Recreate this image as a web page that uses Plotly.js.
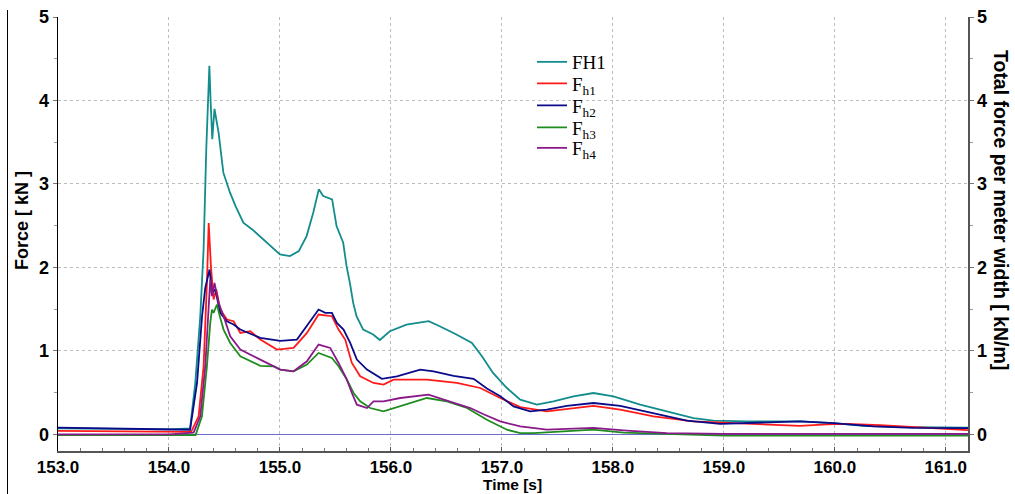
<!DOCTYPE html>
<html>
<head>
<meta charset="utf-8">
<script src="https://cdn.plot.ly/plotly-3.0.1.min.js"></script>
<style>
  html, body { margin:0; padding:0; background:#fff; }
  #wrap { position:relative; width:1015px; height:494px; }
  #chart { width:1015px; height:494px; }
  #edge { position:absolute; left:7px; top:10px; width:1px; height:484px; background:#000; }
</style>
</head>
<body>
<div id="wrap"><div id="chart"></div><div id="edge"></div></div>
<script>
// ---- Data ----
const seriesNames = ['FH1', 'F<sub>h1</sub>', 'F<sub>h2</sub>', 'F<sub>h3</sub>', 'F<sub>h4</sub>'];

const tFH1 = [153.0,153.5,154.0,154.19,154.237,154.282,154.312,154.336,154.354,154.364,154.375,154.39,154.41,154.447,154.49,154.55,154.60,154.67,154.75,154.85,154.94,155.0,155.09,155.17,155.24,155.30,155.35,155.39,155.47,155.48,155.51,155.57,155.60,155.63,155.66,155.69,155.75,155.84,155.90,155.99,156.14,156.34,156.44,156.59,156.73,156.82,156.92,157.045,157.165,157.315,157.465,157.645,157.825,158.005,158.246,158.486,158.726,158.906,159.207,159.687,159.988,160.258,160.708,161.2];
const FH1  = [0.07,0.065,0.06,0.07,0.615,1.415,2.215,3.415,4.215,4.415,4.0,3.535,3.90,3.615,3.135,2.895,2.735,2.535,2.455,2.335,2.215,2.155,2.135,2.195,2.375,2.655,2.935,2.855,2.815,2.735,2.495,2.295,2.015,1.815,1.575,1.415,1.255,1.195,1.13,1.235,1.315,1.355,1.295,1.195,1.095,0.935,0.735,0.555,0.415,0.355,0.395,0.455,0.495,0.455,0.355,0.275,0.195,0.165,0.155,0.155,0.135,0.10,0.085,0.08];

const tFh1 = [153.0,153.5,154.0,154.2,154.267,154.312,154.342,154.358,154.378,154.402,154.426,154.462,154.522,154.582,154.643,154.733,154.823,154.973,155.123,155.243,155.348,155.468,155.528,155.588,155.648,155.723,155.843,155.933,156.024,156.324,156.594,156.805,156.985,157.165,157.405,157.645,157.825,158.066,158.366,158.726,158.996,159.357,159.687,159.927,160.108,160.408,160.708,161.2];
const Fh1  = [0.04,0.035,0.03,0.03,0.215,0.815,1.815,2.53,2.015,1.615,1.735,1.495,1.375,1.355,1.215,1.235,1.135,1.015,1.035,1.215,1.435,1.415,1.255,1.135,0.855,0.695,0.615,0.595,0.655,0.655,0.615,0.555,0.435,0.325,0.275,0.315,0.34,0.295,0.215,0.155,0.14,0.12,0.10,0.12,0.125,0.11,0.09,0.05];

const tFh2 = [153.0,153.5,154.0,154.19,154.253,154.298,154.327,154.366,154.387,154.417,154.462,154.522,154.582,154.643,154.823,155.003,155.153,155.243,155.348,155.408,155.468,155.513,155.573,155.633,155.693,155.784,155.919,156.054,156.264,156.384,156.564,156.745,156.865,156.985,157.105,157.255,157.405,157.585,157.825,158.066,158.366,158.666,158.967,159.357,159.687,159.988,160.348,160.708,161.2];
const Fh2  = [0.08,0.07,0.06,0.055,0.615,1.415,1.755,1.975,1.695,1.735,1.455,1.355,1.315,1.255,1.155,1.12,1.135,1.295,1.495,1.455,1.455,1.335,1.255,1.095,0.895,0.775,0.665,0.695,0.775,0.755,0.70,0.665,0.55,0.455,0.335,0.275,0.295,0.34,0.375,0.34,0.255,0.165,0.125,0.14,0.155,0.135,0.095,0.078,0.075];

const tFh3 = [153.0,154.0,154.24,154.297,154.342,154.372,154.387,154.402,154.432,154.462,154.492,154.552,154.643,154.823,154.943,155.003,155.123,155.243,155.348,155.468,155.528,155.603,155.663,155.723,155.813,155.933,156.084,156.324,156.504,156.685,156.865,156.955,157.045,157.165,157.285,157.555,157.825,158.096,158.486,159.0,161.2];
const Fh3  = [-0.01,-0.01,-0.01,0.215,0.815,1.335,1.495,1.455,1.555,1.395,1.255,1.095,0.935,0.82,0.815,0.775,0.755,0.835,0.975,0.915,0.815,0.655,0.495,0.395,0.315,0.275,0.335,0.435,0.395,0.315,0.175,0.115,0.055,0.015,0.015,0.035,0.055,0.02,0.005,-0.015,-0.015];

const tFh4 = [153.0,154.0,154.222,154.282,154.327,154.357,154.372,154.387,154.41,154.447,154.492,154.552,154.643,154.823,155.003,155.123,155.243,155.348,155.453,155.528,155.603,155.648,155.693,155.784,155.843,155.933,156.084,156.339,156.534,156.715,156.835,156.985,157.165,157.405,157.825,158.126,158.486,159.0,161.2];
const Fh4  = [0.0,0.0,0.02,0.215,0.815,1.575,1.855,1.655,1.815,1.575,1.415,1.175,1.015,0.895,0.775,0.755,0.875,1.075,1.035,0.855,0.655,0.495,0.355,0.315,0.395,0.395,0.435,0.475,0.395,0.315,0.24,0.155,0.095,0.055,0.078,0.045,0.015,0.005,0.005];

const yTicks = [0, 1, 2, 3, 4, 5];
const xTicks = [153, 154, 155, 156, 157, 158, 159, 160, 161];

// ---- Styling ----
const colors = ['#128c8c', '#ff1a1a', '#0a0a8a', '#1f8c1f', '#8a1a8a'];
const xs = [tFH1, tFh1, tFh2, tFh3, tFh4];
const ys = [FH1, Fh1, Fh2, Fh3, Fh4];
const legendIds = ['legend', 'legend2', 'legend3', 'legend4', 'legend5'];
const legendRowPx = [62, 83.5, 105.5, 127.5, 148];   // vertical centre of each legend row (pixels)

const traces = xs.map((x, i) => ({
  x: x, y: ys[i], name: seriesNames[i], type: 'scatter', mode: 'lines',
  legend: legendIds[i],
  line: { color: colors[i], width: 1.8 }
}));
// invisible trace for the right axis
traces.push({ x: [153], y: [0], yaxis: 'y2', mode: 'lines', showlegend: false,
  hoverinfo: 'skip', line: { color: 'rgba(0,0,0,0)' } });

const tickFont = { family: 'Liberation Sans, Arial, sans-serif', size: 18, color: '#000', weight: 'bold' };

const layout = {
  width: 1015, height: 494,
  margin: { l: 58, r: 47, t: 17, b: 43 },
  paper_bgcolor: '#fff', plot_bgcolor: '#fff',
  showlegend: true,
  xaxis: {
    range: [153, 161.2], tickvals: xTicks, tickformat: '.1f',
    showgrid: true, gridcolor: '#bdbdbd', griddash: 'dot', gridwidth: 1,
    zeroline: false, showline: true, linecolor: '#555', linewidth: 2,
    ticks: 'inside', ticklen: 4, tickcolor: '#555',
    minor: { dtick: 0.2, ticks: 'inside', ticklen: 3, tickcolor: '#777', showgrid: false },
    tickfont: { family: 'Liberation Sans, Arial, sans-serif', size: 17, color: '#000', weight: 'bold' }
  },
  yaxis: {
    range: [-0.2, 5], tickvals: yTicks,
    showgrid: true, gridcolor: '#bdbdbd', griddash: 'dot', gridwidth: 1,
    zeroline: true, zerolinecolor: '#6b6bcc', zerolinewidth: 1,
    showline: true, linecolor: '#000', linewidth: 1.5,
    ticks: 'outside', ticklen: 4, tickcolor: '#777',
    minor: { dtick: 0.5, ticks: 'outside', ticklen: 3, tickcolor: '#999', showgrid: false },
    tickfont: tickFont
  },
  yaxis2: {
    range: [-0.2, 5], tickvals: yTicks, overlaying: 'y', side: 'right',
    showgrid: false, zeroline: false, showline: true, linecolor: '#555', linewidth: 1.5,
    ticks: 'outside', ticklen: 4, tickcolor: '#777',
    minor: { dtick: 0.5, ticks: 'outside', ticklen: 3, tickcolor: '#999', showgrid: false },
    tickfont: tickFont
  },
  annotations: [
    { text: 'Force [ kN ]', xref: 'paper', yref: 'paper',
      x: (22 - 58) / 910, y: (451 - 221) / 434, xanchor: 'center', yanchor: 'middle',
      textangle: -90, showarrow: false,
      font: { family: 'Liberation Sans, Arial, sans-serif', size: 18, color: '#000', weight: 'bold' } },
    { text: 'Total force per meter width [ kN/m]', xref: 'paper', yref: 'paper',
      x: (1001 - 58) / 910, y: (451 - 210) / 434, xanchor: 'center', yanchor: 'middle',
      textangle: 90, showarrow: false,
      font: { family: 'Liberation Sans, Arial, sans-serif', size: 19.5, color: '#000', weight: 'bold' } },
    { text: 'Time [s]', xref: 'paper', yref: 'paper',
      x: (512 - 58) / 910, y: -(484 - 451) / 434, xanchor: 'center', yanchor: 'middle',
      showarrow: false,
      font: { family: 'Liberation Sans, Arial, sans-serif', size: 15.5, color: '#000', weight: 'bold' } }
  ]
};

legendIds.forEach((id, i) => {
  layout[id] = {
    x: (532 - 58) / 910, xanchor: 'left',
    y: (451 - legendRowPx[i]) / 434, yanchor: 'middle',
    bgcolor: 'rgba(255,255,255,0)', borderwidth: 0,
    font: { family: 'Liberation Serif, Times New Roman, serif', size: 19, color: '#000' }
  };
});

Plotly.newPlot('chart', traces, layout, { displayModeBar: false, staticPlot: true });
</script>
</body>
</html>
